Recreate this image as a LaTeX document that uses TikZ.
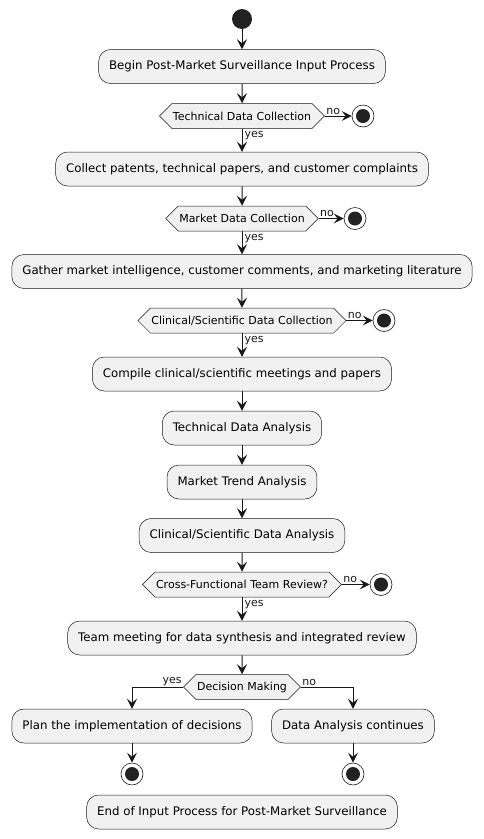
\documentclass[tikz,border=0pt]{standalone}
\usepackage{fontspec}
\setmainfont{DejaVu Sans}
\usetikzlibrary{arrows.meta,shapes.symbols,shapes.misc}
\usetikzlibrary{positioning}
\definecolor{actfill}{HTML}{F1F1F1}
\definecolor{actline}{HTML}{181818}
\definecolor{dotfill}{HTML}{222222}

\begin{document}
\begin{tikzpicture}[x=1pt,y=-1pt,
	act/.style={rectangle, rounded corners=12pt, draw=actline, line width=0.5pt, fill=actfill, minimum height=34pt, inner xsep=10.5pt, font=\fontsize{11.8}{14}\selectfont},
	cond/.style={signal, signal to=west and east, draw=actline, line width=0.5pt, fill=actfill, minimum height=25pt, inner xsep=1pt, inner ysep=2pt, font=\fontsize{11}{13}\selectfont},
	startdot/.style={circle, fill=dotfill, minimum size=20pt, inner sep=0pt},
	stopdot/.style={circle, draw=actline, line width=0.6pt, fill=white, minimum size=22pt, inner sep=0pt, path picture={\fill[dotfill] (path picture bounding box.center) circle (7pt);}},
	arr/.style={-{Stealth[length=10pt,width=10pt,inset=4pt]}, line width=1pt, actline},
	lbl/.style={font=\fontsize{11}{13}\selectfont, inner sep=1pt}]

\fill[white] (0,0) rectangle (484,839);

% start and input
\node[startdot] (start) at (242,19) {};
\node[act] (begin) at (242,66.5) {Begin Post-Market Surveillance Input Process};
\node[cond] (techq) at (242,116) {Technical Data Collection};
\node[stopdot] (techend) at (363,116) {};
\node[act] (collect) at (242,169) {Collect patents, technical papers, and customer complaints};
\node[cond] (mktq) at (242,218.5) {Market Data Collection};
\node[stopdot] (mktend) at (355,218.5) {};
\node[act] (gather) at (242,271.5) {Gather market intelligence, customer comments, and marketing literature};
\node[cond] (clinq) at (242,320.5) {Clinical/Scientific Data Collection};
\node[stopdot] (clinend) at (384,320.5) {};
\node[act] (compile) at (242,374) {Compile clinical/scientific meetings and papers};

% analysis
\node[act] (techan) at (242,428) {Technical Data Analysis};
\node[act] (mktan) at (242,482) {Market Trend Analysis};
\node[act] (clinan) at (242,535.5) {Clinical/Scientific Data Analysis};
\node[cond] (teamq) at (242,584.5) {Cross-Functional Team Review?};
\node[stopdot] (teamend) at (381,584.5) {};
\node[act] (meeting) at (242,638) {Team meeting for data synthesis and integrated review};

% decision
\node[cond] (decide) at (242,687) {Decision Making};
\node[act] (plan) at (132,726) {Plan the implementation of decisions};
\node[act] (cont) at (353,726) {Data Analysis continues};
\node[stopdot] (planend) at (132,774) {};
\node[stopdot] (contend) at (353,774) {};
\node[act] (finish) at (242,812) {End of Input Process for Post-Market Surveillance};

\draw[arr] (start) -- (begin);
\draw[arr] (begin) -- (techq);
\draw[arr] (techq.east) -- node[lbl, pos=0, anchor=south west] {no} (techend);
\draw[arr] (techq.south) -- node[lbl, pos=0, anchor=north west, xshift=1pt, yshift=-1.5pt] {yes} (collect.north);
\draw[arr] (collect) -- (mktq);
\draw[arr] (mktq.east) -- node[lbl, pos=0, anchor=south west] {no} (mktend);
\draw[arr] (mktq.south) -- node[lbl, pos=0, anchor=north west, xshift=1pt, yshift=-1.5pt] {yes} (gather.north);
\draw[arr] (gather) -- (clinq);
\draw[arr] (clinq.east) -- node[lbl, pos=0, anchor=south west] {no} (clinend);
\draw[arr] (clinq.south) -- node[lbl, pos=0, anchor=north west, xshift=1pt, yshift=-1.5pt] {yes} (compile.north);
\draw[arr] (compile) -- (techan);
\draw[arr] (techan) -- (mktan);
\draw[arr] (mktan) -- (clinan);
\draw[arr] (clinan) -- (teamq);
\draw[arr] (teamq.east) -- node[lbl, pos=0, anchor=south west] {no} (teamend);
\draw[arr] (teamq.south) -- node[lbl, pos=0, anchor=north west, xshift=1pt, yshift=-1.5pt] {yes} (meeting.north);
\draw[arr] (meeting) -- (decide);
\draw[arr] (decide.west) node[lbl, anchor=south east] {yes} -| (plan.north);
\draw[arr] (decide.east) node[lbl, anchor=south west] {no} -| (cont.north);
\draw[arr] (plan) -- (planend);
\draw[arr] (cont) -- (contend);
\end{tikzpicture}
\end{document}
